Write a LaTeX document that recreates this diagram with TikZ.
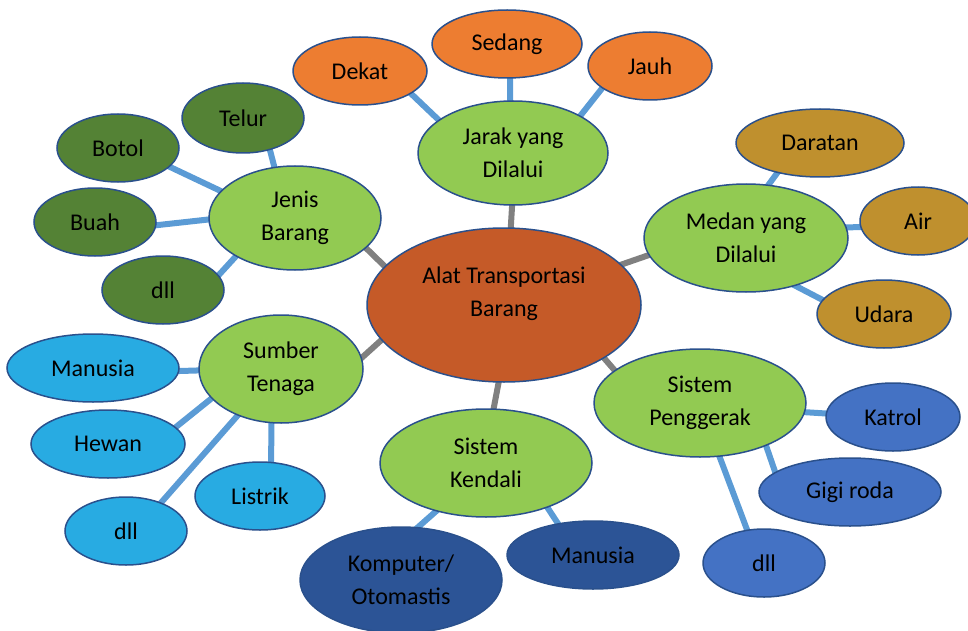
\documentclass[tikz,border=0pt]{standalone}
\usepackage{fontspec}
\setmainfont{Carlito}
\usepackage{tikz}
\usetikzlibrary{shapes.geometric,backgrounds}
\definecolor{pusat}{RGB}{197,90,40}
\definecolor{hijau}{RGB}{146,202,82}
\definecolor{oranye}{RGB}{237,125,49}
\definecolor{hijautua}{RGB}{84,130,53}
\definecolor{emas}{RGB}{191,144,46}
\definecolor{birumuda}{RGB}{40,171,226}
\definecolor{birutua}{RGB}{44,84,150}
\definecolor{birusedang}{RGB}{68,114,196}
\definecolor{tepi}{RGB}{42,80,140}
\definecolor{garisbiru}{RGB}{91,155,213}
\definecolor{garisabu}{RGB}{128,128,128}

\begin{document}
\begin{tikzpicture}[x=1pt, y=-1pt,
                          huruf/.style={align=center, font=\fontsize{24}{33}\selectfont},
                          bubble/.style={ellipse, draw=tepi, line width=1.5pt, inner sep=0pt, huruf},
                          induk/.style={line width=6pt, garisabu, shorten <=-4pt, shorten >=-4pt},
                          cabang/.style={line width=6pt, garisbiru, shorten <=-4pt, shorten >=-4pt},
                         ]

\useasboundingbox (0,0) rectangle (968,631);

% pusat
\node[bubble, fill=pusat, minimum width=274pt, minimum height=154pt] (pusat) at (504,305) {};
\node[huruf] (judul) at ([yshift=11pt]pusat.center) {Alat Transportasi\\Barang};

% cabang utama
\node[bubble, fill=hijau, minimum width=190pt, minimum height=104pt] (jarak) at (513,153) {Jarak yang\\Dilalui};
\node[bubble, fill=hijau, minimum width=172pt, minimum height=104pt] (jenis) at (295,218) {Jenis\\Barang};
\node[bubble, fill=hijau, minimum width=204pt, minimum height=108pt] (medan) at (746,238) {Medan yang\\Dilalui};
\node[bubble, fill=hijau, minimum width=164pt, minimum height=108pt] (sumber) at (281,369) {Sumber\\Tenaga};
\node[bubble, fill=hijau, minimum width=212pt, minimum height=108pt] (kendali) at (486,463) {Sistem\\Kendali};
\node[bubble, fill=hijau, minimum width=212pt, minimum height=108pt] (penggerak) at (700,403) {Sistem\\Penggerak};

% jarak
\node[bubble, fill=oranye, minimum width=134pt, minimum height=68pt] (dekat) at (360,71) {Dekat};
\node[bubble, fill=oranye, minimum width=150pt, minimum height=68pt] (sedang) at (507,44) {Sedang};
\node[bubble, fill=oranye, minimum width=124pt, minimum height=68pt] (jauh) at (650,66) {Jauh};

% jenis barang
\node[bubble, fill=hijautua, minimum width=122pt, minimum height=70pt] (telur) at (243,118) {Telur};
\node[bubble, fill=hijautua, minimum width=122pt, minimum height=68pt] (botol) at (118,148) {Botol};
\node[bubble, fill=hijautua, minimum width=122pt, minimum height=68pt] (buah) at (95,222) {Buah};
\node[bubble, fill=hijautua, minimum width=122pt, minimum height=68pt] (dllA) at (163,290) {dll};

% medan
\node[bubble, fill=emas, minimum width=168pt, minimum height=68pt] (daratan) at (820,143) {Daratan};
\node[bubble, fill=emas, minimum width=116pt, minimum height=68pt] (air) at (918,221) {Air};
\node[bubble, fill=emas, minimum width=134pt, minimum height=68pt] (udara) at (884,314) {Udara};

% sumber tenaga
\node[bubble, fill=birumuda, minimum width=172pt, minimum height=68pt] (manusiaA) at (93,368) {Manusia};
\node[bubble, fill=birumuda, minimum width=154pt, minimum height=68pt] (hewan) at (108,444) {Hewan};
\node[bubble, fill=birumuda, minimum width=130pt, minimum height=68pt] (listrik) at (260,496) {Listrik};
\node[bubble, fill=birumuda, minimum width=122pt, minimum height=68pt] (dllB) at (126,531) {dll};

% kendali
\node[bubble, fill=birutua, minimum width=202pt, minimum height=106pt] (komputer) at (401,580) {Komputer/\\Otomastis};
\node[bubble, fill=birutua, minimum width=172pt, minimum height=68pt] (manusiaB) at (593,555) {Manusia};

% penggerak
\node[bubble, fill=birusedang, minimum width=134pt, minimum height=68pt] (katrol) at (893,417) {Katrol};
\node[bubble, fill=birusedang, minimum width=182pt, minimum height=68pt] (gigi) at (850,492) {Gigi roda};
\node[bubble, fill=birusedang, minimum width=122pt, minimum height=68pt] (dllC) at (764,563) {dll};

\begin{scope}[on background layer]
\draw[induk] (pusat.162) -- (jenis.-23);
\draw[induk] (pusat.85) -- (jarak.-91);
\draw[induk] (pusat.19) -- (medan.-170);
\draw[induk] (pusat.-164) -- (sumber.8);
\draw[induk] (pusat.-94) -- (kendali.82);
\draw[induk] (pusat.-28) -- (penggerak.159);

\draw[cabang] (jarak.156) -- (dekat.-24);
\draw[cabang] (jarak.93) -- (sedang.-85);
\draw[cabang] (jarak.29) -- (jauh.-155);

\draw[cabang] (jenis.112) -- (telur.-50);
\draw[cabang] (jenis.160) -- (botol.-20);
\draw[cabang] (jenis.181) -- (buah.-3);
\draw[cabang] (jenis.-147) -- (dllA.15);

\draw[cabang] (medan.67) -- (daratan.-145);
\draw[cabang] (medan.6) -- (air.-174);
\draw[cabang] (medan.-44) -- (udara.167);

\draw[cabang] (sumber.181) -- (manusiaA.-2);
\draw[cabang] (sumber.-157) -- (hewan.14);
\draw[cabang] (sumber.-133) -- (dllB.39);
\draw[cabang] (sumber.-100) -- (listrik.72);

\draw[cabang] (kendali.-136) -- (komputer.72);
\draw[cabang] (kendali.-36) -- (manusiaB.138);

\draw[cabang] (penggerak.-5) -- (katrol.177);
\draw[cabang] (penggerak.-33) -- (gigi.165);
\draw[cabang] (penggerak.-70) -- (dllC.117);
\end{scope}

\end{tikzpicture}
\end{document}
